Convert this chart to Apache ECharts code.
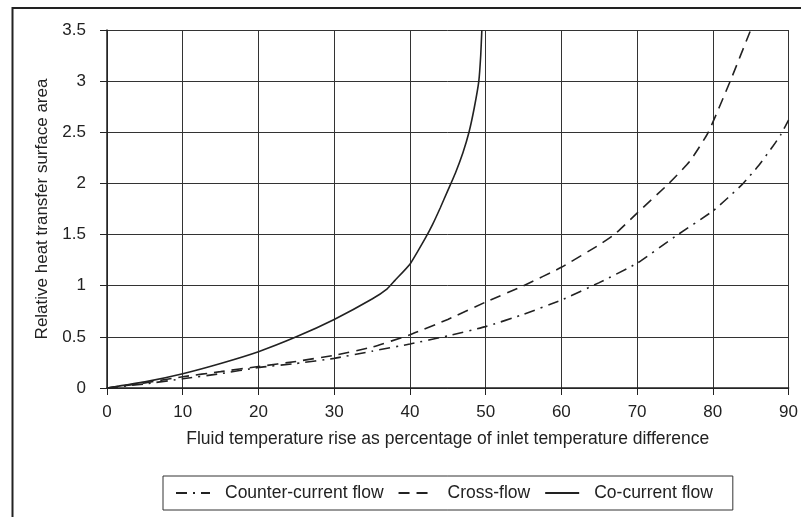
<!DOCTYPE html>
<html>
<head>
<meta charset="utf-8">
<title>Relative heat transfer surface area</title>
<script src="https://cdn.jsdelivr.net/npm/echarts@6/dist/echarts.min.js"></script>
<style>
  html, body { margin: 0; padding: 0; background: #fff; }
  #chart { width: 801px; height: 517px; }
</style>
</head>
<body>
<div id="chart"></div>
<script>
// x = fluid temperature rise (%), y = relative surface area
const counterX = [0, 5, 10, 15, 20, 25, 30, 35, 40, 45, 50, 55, 60, 65, 70, 75, 80, 82, 84, 86, 88, 89, 90]
const counterY = [0, 0.04, 0.09, 0.14, 0.2, 0.24, 0.29, 0.36, 0.43, 0.51, 0.6, 0.72, 0.86, 1.03, 1.22, 1.48, 1.73, 1.86, 2.0, 2.17, 2.37, 2.48, 2.62]

const crossX = [0, 5, 10, 15, 20, 25, 30, 35, 40, 45, 50, 55, 60, 65, 67, 70, 74.2, 77, 79.4, 82.3, 85]
const crossY = [0, 0.05, 0.11, 0.16, 0.21, 0.26, 0.32, 0.4, 0.52, 0.67, 0.84, 1.0, 1.18, 1.4, 1.5, 1.71, 2.0, 2.22, 2.5, 3.0, 3.5]

const coX = [0, 5, 10, 15, 20, 25, 30, 35, 37, 38, 40, 42, 43, 44, 45, 46, 47, 47.8, 48.5, 49.1, 49.35, 49.5]
const coY = [0, 0.06, 0.14, 0.24, 0.355, 0.5, 0.67, 0.87, 0.97, 1.05, 1.21, 1.46, 1.6, 1.76, 1.93, 2.1, 2.3, 2.5, 2.74, 3.0, 3.25, 3.5]

const xTicks = [0, 10, 20, 30, 40, 50, 60, 70, 80, 90]
const yTicks = [0, 0.5, 1, 1.5, 2, 2.5, 3, 3.5]

const zip = (xs, ys) => xs.map((x, i) => [x, ys[i]])

const font = 'Liberation Sans, Arial, sans-serif'
const ink = '#222'

const chart = echarts.init(document.getElementById('chart'))

chart.setOption({
  animation: false,
  textStyle: { fontFamily: font },
  graphic: [
    {
      // outer frame of the figure
      type: 'rect',
      shape: { x: 12.5, y: 8, width: 900, height: 700 },
      style: { fill: null, stroke: ink, lineWidth: 2 },
      silent: true
    }
  ],
  grid: {
    left: 107,
    right: 12,
    top: 30,
    bottom: 129
  },
  legend: {
    left: 163,
    top: 476,
    orient: 'horizontal',
    padding: [8, 20, 8, 12],
    borderColor: '#333',
    borderWidth: 1,
    itemWidth: 34,
    itemHeight: 14,
    itemGap: 14,
    // hide the marker dot, keep only the line sample
    itemStyle: { color: 'rgba(0,0,0,0)', borderWidth: 0, opacity: 0 },
    textStyle: { fontSize: 17.5, color: ink, fontFamily: font, padding: [0, 0, 0, 10] },
    data: ['Counter-current flow', 'Cross-flow', 'Co-current flow']
  },
  xAxis: {
    type: 'value',
    min: 0,
    max: 90,
    interval: 10,
    name: 'Fluid temperature rise as percentage of inlet temperature difference',
    nameLocation: 'middle',
    nameGap: 42,
    nameTextStyle: { fontSize: 17.5, color: ink, fontFamily: font, verticalAlign: 'top' },
    axisLine: { lineStyle: { color: ink, width: 1.5 } },
    axisTick: { show: true, length: 7, lineStyle: { color: ink } },
    axisLabel: {
      fontSize: 17,
      color: ink,
      margin: 16,
      formatter: v => (xTicks.includes(v) ? String(v) : '')
    },
    splitLine: { show: true, lineStyle: { color: '#333', width: 1 } }
  },
  yAxis: {
    type: 'value',
    min: 0,
    max: 3.5,
    interval: 0.5,
    name: 'Relative heat transfer surface area',
    nameLocation: 'middle',
    nameGap: 56,
    nameTextStyle: { fontSize: 17, color: ink, fontFamily: font },
    axisLine: { show: true, lineStyle: { color: ink, width: 1.5 } },
    axisTick: { show: true, length: 7, lineStyle: { color: ink } },
    axisLabel: {
      fontSize: 17,
      color: ink,
      margin: 21,
      formatter: v => (yTicks.includes(v) ? String(v) : '')
    },
    splitLine: { show: true, lineStyle: { color: '#333', width: 1 } }
  },
  series: [
    {
      name: 'Counter-current flow',
      type: 'line',
      data: zip(counterX, counterY),
      showSymbol: false,
      symbol: 'none',
      smooth: 0.15,
      clip: true,
      lineStyle: { color: ink, width: 1.6, type: [11, 6, 2, 6] },
      itemStyle: { color: ink }
    },
    {
      name: 'Cross-flow',
      type: 'line',
      data: zip(crossX, crossY),
      showSymbol: false,
      symbol: 'none',
      smooth: 0.15,
      clip: true,
      lineStyle: { color: ink, width: 1.6, type: [11, 7] },
      itemStyle: { color: ink }
    },
    {
      name: 'Co-current flow',
      type: 'line',
      data: zip(coX, coY),
      showSymbol: false,
      symbol: 'none',
      smooth: 0.15,
      clip: true,
      lineStyle: { color: ink, width: 1.6 },
      itemStyle: { color: ink }
    }
  ]
})
</script>
</body>
</html>
